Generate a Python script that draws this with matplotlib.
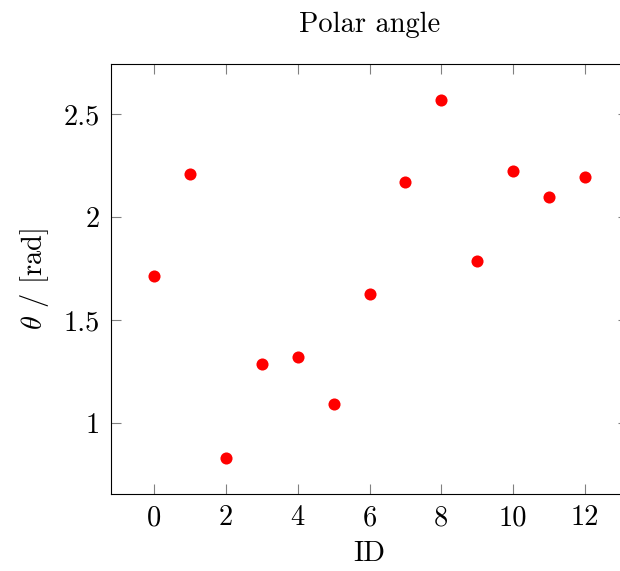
import matplotlib
matplotlib.use("Agg")
import matplotlib.pyplot as plt

# data
ids = [0, 1, 2, 3, 4, 5, 6, 7, 8, 9, 10, 11, 12]
theta = [1.714, 2.209, 0.830, 1.286, 1.320, 1.092, 1.626, 2.170, 2.568,
         1.786, 2.223, 2.097, 2.194]
x_ticks = [0, 2, 4, 6, 8, 10, 12]
y_ticks = [1, 1.5, 2, 2.5]
y_tick_labels = ["1", "1.5", "2", "2.5"]

plt.rcParams["font.family"] = ["cmr10"]
plt.rcParams["mathtext.fontset"] = "cm"
plt.rcParams["axes.formatter.use_mathtext"] = True

W, H = 620, 571
fig = plt.figure(figsize=(W / 100, H / 100), dpi=100)
# right spine sits just outside the picture, as in the reference
ax = fig.add_axes([111 / W, (H - 494) / H, (628 - 111) / W, (494 - 64) / H])

ax.plot(ids, theta, "o", color="#ff0000", markersize=8.7, markeredgewidth=0)

ax.set_xlim(-1.2, 13.2)
ax.set_ylim(0.656, 2.744)
ax.set_xticks(x_ticks)
ax.set_xticklabels([str(v) for v in x_ticks])
ax.set_yticks(y_ticks)
ax.set_yticklabels(y_tick_labels)

for s in ax.spines.values():
    s.set_linewidth(0.8)
ax.tick_params(direction="in", length=7.5, width=0.8, color="#808080",
               top=True, right=True, labelsize=20.5, pad=8)

ax.set_title("Polar angle", fontsize=20.5, pad=23)
ax.set_xlabel("ID", fontsize=20.5, labelpad=7)
ax.set_ylabel(r"$\theta$ / [rad]", fontsize=20.5, labelpad=9)

fig.savefig("out.png", dpi=100)
